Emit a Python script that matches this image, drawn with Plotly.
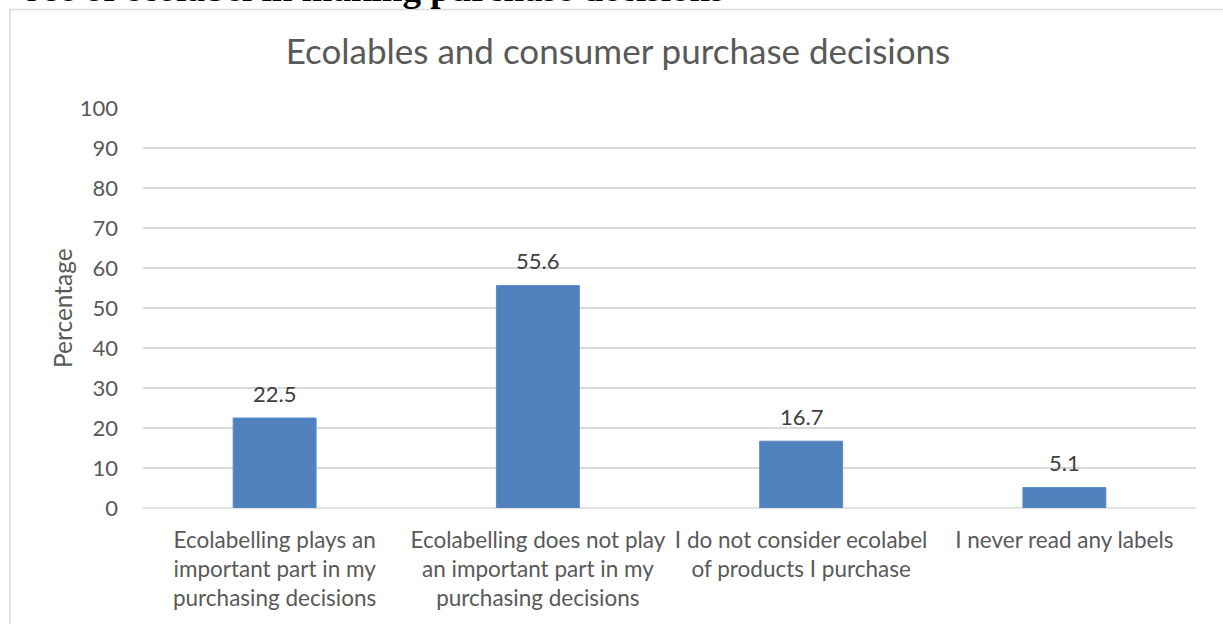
import plotly.graph_objects as go

# Survey responses on ecolabels (percentage of respondents)
categories = [
    "Ecolabelling plays an<br>important part in my<br>purchasing decisions",
    "Ecolabelling does not play<br>an important part in my<br>purchasing decisions",
    "I do not consider ecolabel<br>of products I purchase",
    "I never read any labels",
]
percentages = [22.5, 55.6, 16.7, 5.1]
y_ticks = [0, 10, 20, 30, 40, 50, 60, 70, 80, 90, 100]

W, H = 1223, 624
L, R, T, B = 143, 27, 107.5, 116.3
plot_h = H - T - B
plot_w = W - L - R


def px_to_paper_y(py):
    return (H - B - py) / plot_h


def px_to_paper_x(px):
    return (px - L) / plot_w


FONT = "Lato, Calibri, Carlito, sans-serif"
GRID = "#d9d9d9"
TXT = "#595959"

fig = go.Figure()
fig.add_trace(go.Bar(
    x=categories,
    y=percentages,
    marker=dict(color="#4f81bd", line=dict(color="#5b8cc6", width=1)),
    width=0.315,
    hoverinfo="x+y",
))

annotations = []
# value labels above each bar
for c, v in zip(categories, percentages):
    annotations.append(dict(
        x=c, y=v, xref="x", yref="y", text=f"{v}", showarrow=False,
        yanchor="middle", yshift=25,
        font=dict(family=FONT, size=22, color="#404040"),
    ))

# y axis title
annotations.append(dict(
    x=0, y=0.5, xref="paper", yref="paper", xshift=62 - L,
    text="Percentage", textangle=-90, showarrow=False,
    xanchor="center", yanchor="middle",
    font=dict(family=FONT, size=24.5, color=TXT),
))

# document heading above the chart frame
annotations.append(dict(
    x=px_to_paper_x(16), y=px_to_paper_y(10.5), xref="paper", yref="paper",
    text="<b>Use of ecolabel in making purchase decisions</b>", showarrow=False,
    xanchor="left", yanchor="bottom",
    font=dict(family="Liberation Serif, Times New Roman, serif", size=37, color="#000000"),
))

fig.update_layout(
    width=W, height=H,
    margin=dict(l=L, r=R, t=T, b=B, autoexpand=False),
    paper_bgcolor="white", plot_bgcolor="white",
    showlegend=False,
    title=dict(
        text="Ecolables and consumer purchase decisions",
        x=618 / W, y=1 - 52 / H, xref="container", yref="container",
        xanchor="center", yanchor="middle",
        font=dict(family=FONT, size=35, color=TXT),
    ),
    xaxis=dict(
        showgrid=False, showline=False, zeroline=False, ticks="",
        tickfont=dict(family=FONT, size=22.5, color=TXT),
        ticklabelstandoff=16,
    ),
    yaxis=dict(
        range=[0, 100], tickvals=y_ticks, showgrid=True, gridcolor=GRID,
        gridwidth=1.5, zeroline=False, showline=False, ticks="",
        tickfont=dict(family=FONT, size=22, color=TXT),
        ticklabelstandoff=24,
    ),
    annotations=annotations,
    shapes=[
        dict(type="line", xref="paper", yref="paper",
             x0=0, x1=1, y0=0, y1=0, line=dict(color=GRID, width=1.5), layer="below"),
        dict(type="rect", xref="paper", yref="paper",
             x0=px_to_paper_x(10), x1=px_to_paper_x(W + 20),
             y0=px_to_paper_y(H + 20), y1=px_to_paper_y(9),
             line=dict(color=GRID, width=1.5), fillcolor="rgba(0,0,0,0)"),
    ],
)

fig.write_html("out.html")
